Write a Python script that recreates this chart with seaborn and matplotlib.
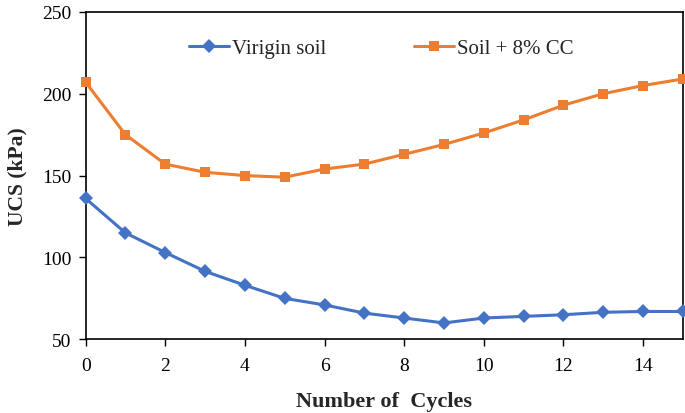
import matplotlib
matplotlib.use("Agg")
from matplotlib import pyplot as plt
import seaborn as sns
import pandas as pd

cycles = list(range(16))
virgin_soil = [136, 115, 103, 91.5, 83, 75, 71, 66, 63, 60, 63, 64, 65, 66.5, 67, 67]
soil_cc = [207, 175, 157, 152, 150, 149, 154, 157, 163, 169, 176, 184, 193, 200, 205, 209]
series_names = ["Virigin soil", "Soil + 8% CC"]

df = pd.DataFrame({"cycles": cycles + cycles,
                   "ucs": virgin_soil + soil_cc,
                   "series": [series_names[0]] * 16 + [series_names[1]] * 16})

sns.set_style("white")
plt.rcParams["font.family"] = ["Liberation Serif", "DejaVu Serif"]

fig = plt.figure(figsize=(6.85, 4.14), dpi=100)
ax = fig.add_axes([0.125, 0.178, 0.872, 0.791])

palette = {series_names[0]: "#4472C4", series_names[1]: "#ED7D31"}
sns.lineplot(data=df, x="cycles", y="ucs", hue="series", style="series",
             markers={series_names[0]: "D", series_names[1]: "s"},
             dashes=False, palette=palette, linewidth=2.2, markersize=7.5,
             markeredgewidth=0, ax=ax, clip_on=False, zorder=3)

ax.set_xlim(0, 15)
ax.set_ylim(50, 250)
ax.set_xticks(range(0, 15, 2))
ax.set_yticks(range(50, 251, 50))
ax.tick_params(axis="both", direction="out", length=5, width=1, labelsize=14,
               colors="black", bottom=True, left=True, pad=5)
ax.tick_params(axis="x", pad=8)
for s in ax.spines.values():
    s.set_color("black")
    s.set_linewidth(1.2)

ax.set_xlabel("Number of  Cycles", fontsize=16, fontweight="bold", labelpad=12)
ax.set_ylabel("UCS (kPa)", fontsize=15.5, fontweight="bold", labelpad=11)

ax.legend(title=None, ncol=2, frameon=False, loc="upper center",
          bbox_to_anchor=(0.495, 0.975), fontsize=15, columnspacing=4.2,
          handlelength=1.9, handletextpad=0.15)

fig.savefig("out.png", dpi=100)
